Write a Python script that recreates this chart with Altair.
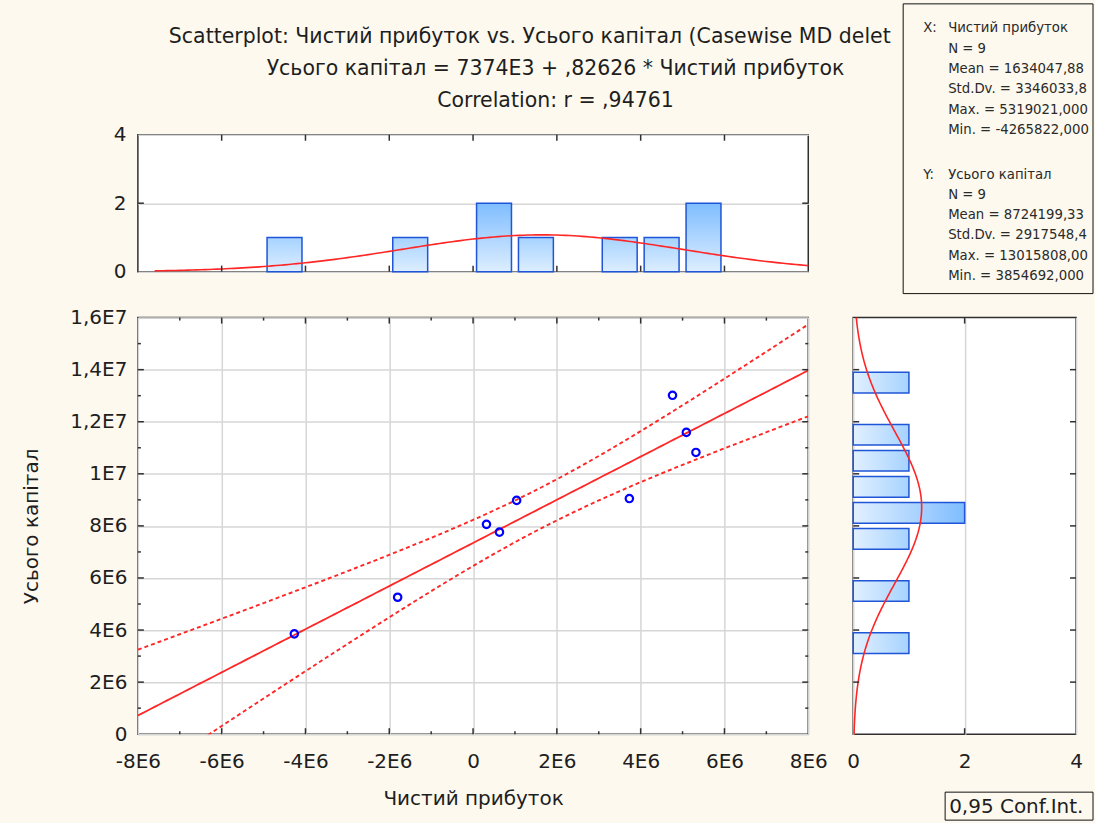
import altair as alt
import numpy as np
import pandas as pd

# ---------------- data ----------------
x_vals = [-4265822, -1800000, 320000, 630000, 1040000, 3730000, 4760000, 5090000, 5319021]
y_vals = [3854692, 5260000, 8060000, 7760000, 8980000, 9050000, 13015808, 11590000, 10820000]

x_label = "Чистий прибуток"
y_label = "Усього капітал"
title_line1 = ["Scatterplot: Чистий прибуток vs. Усього капітал (Casewise MD deletion)"]
title_lines23 = [
    "Усього капітал = 7374E3 + ,82626 * Чистий прибуток",
    "Correlation: r = ,94761",
]
stats_x_head = ["X:"]
stats_x_lines = ["Чистий прибуток", "N = 9", "Mean = 1634047,888889", "Std.Dv. = 3346033,8",
                 "Max. = 5319021,000000", "Min. = -4265822,000000"]
stats_y_head = ["Y:"]
stats_y_lines = ["Усього капітал", "N = 9", "Mean = 8724199,333333", "Std.Dv. = 2917548,4",
                 "Max. = 13015808,00000", "Min. = 3854692,000000"]
ci_label = "0,95 Conf.Int."

x_domain = [-8000000, 8000000]
y_domain = [0, 16000000]
count_domain = [0, 4]
x_major = list(range(-8000000, 8000001, 2000000))
x_minor = list(range(-7000000, 8000000, 2000000))
y_major = list(range(0, 16000001, 2000000))
y_minor = list(range(1000000, 16000000, 2000000))
count_ticks = [0, 2, 4]
count_inner = [2]
bin_width = 1000000
t_975_df7 = 2.364624

# ---------------- derived statistics ----------------
X = np.array(x_vals, float)
Y = np.array(y_vals, float)
n = len(X)
slope, intercept = np.polyfit(X, Y, 1)
resid = Y - (intercept + slope * X)
s_e = np.sqrt((resid ** 2).sum() / (n - 2))
sxx = ((X - X.mean()) ** 2).sum()
xs = np.linspace(x_domain[0], x_domain[1], 161)
fit = intercept + slope * xs
half = t_975_df7 * s_e * np.sqrt(1 / n + (xs - X.mean()) ** 2 / sxx)
fit_df = pd.DataFrame({"x": xs, "fit": fit, "lo": fit - half, "hi": fit + half})


def npdf(v, m, s):
    return np.exp(-0.5 * ((v - m) / s) ** 2) / (s * np.sqrt(2 * np.pi))


gx = np.linspace(-7600000, x_domain[1], 157)
nx_df = pd.DataFrame({"x": gx, "c": n * bin_width * npdf(gx, X.mean(), X.std(ddof=1))})
gy = np.linspace(y_domain[0], y_domain[1], 161)
ny_df = pd.DataFrame({"y": gy, "c": n * bin_width * npdf(gy, Y.mean(), Y.std(ddof=1))})

ex = np.arange(x_domain[0], x_domain[1] + bin_width, bin_width)
cx, _ = np.histogram(X, ex)
hx = pd.DataFrame({"start": ex[:-1], "end": ex[1:], "count": cx})
hx = hx[hx["count"] > 0]
ey = np.arange(y_domain[0], y_domain[1] + bin_width, bin_width)
cy, _ = np.histogram(Y, ey)
hy = pd.DataFrame({"start": ey[:-1], "end": ey[1:], "count": cy})
hy = hy[hy["count"] > 0]

pts = pd.DataFrame({"x": x_vals, "y": y_vals})
one = pd.DataFrame({"u": [0.0], "v": [0.0]})

# ---------------- styles ----------------
FONT = "DejaVu Sans"
TXT = "#1e1e1e"
GRID = "#d6d6d6"
FRAME = "#303030"
BG = "#fdf9ee"
RED = "#ff2626"
BLUE = "#0000ff"
BAR_STROKE = "#1f55d6"
W, H = 671, 417
TH = 137
RW = 223
MAJ, MIN = 6, 3

sx = alt.Scale(domain=x_domain, nice=False, zero=False)
sy = alt.Scale(domain=y_domain, nice=False, zero=False)
sc = alt.Scale(domain=count_domain, nice=False, zero=False)
su = alt.Scale(domain=[0, 1], nice=False, zero=False)

XL = "datum.value == 0 ? '0' : (datum.value / 1000000) + 'E6'"
YL = ("datum.value == 0 ? '0' : (datum.value < 10000000 ? (datum.value / 1000000) + 'E6' : "
      "replace('' + (datum.value / 10000000), '.', ',') + 'E7')")


def grad(light, dark, horizontal):
    if horizontal:
        return alt.Gradient(gradient="linear", x1=0, y1=0, x2=1, y2=0,
                            stops=[alt.GradientStop(color=light, offset=0),
                                   alt.GradientStop(color=dark, offset=1)])
    return alt.Gradient(gradient="linear", x1=0, y1=1, x2=0, y2=0,
                        stops=[alt.GradientStop(color=light, offset=0),
                               alt.GradientStop(color=dark, offset=1)])


def edge_ticks(values, channel, scale, size, length):
    """Inside tick marks on both edges of a panel, placed by the panel's own scale."""
    df = pd.DataFrame({"t": values})
    out = []
    for pos in (size / 2, length - size / 2):
        if channel == "x":
            out.append(alt.Chart(df).mark_tick(orient="vertical", size=size, thickness=1.5,
                                               color=FRAME, opacity=1).encode(
                x=alt.X("t:Q", scale=scale, axis=None), y=alt.value(pos)))
        else:
            out.append(alt.Chart(df).mark_tick(orient="horizontal", size=size, thickness=1.5,
                                               color=FRAME, opacity=1).encode(
                y=alt.Y("t:Q", scale=scale, axis=None), x=alt.value(pos)))
    return out


x_major_in = [v for v in x_major if x_domain[0] < v < x_domain[1]]
y_major_in = [v for v in y_major if y_domain[0] < v < y_domain[1]]

# ---------------- scatter panel ----------------
main_x_axis = alt.Axis(orient="bottom", values=x_major, labelExpr=XL, ticks=False, tickSize=0,
                       domain=False, grid=True, gridColor=GRID, gridWidth=1.5, labelPadding=17,
                       labelFlush=False, labelOverlap=False, title=x_label, titleY=64,
                       titleBaseline="middle")
main_y_axis = alt.Axis(orient="left", values=y_major, labelExpr=YL, ticks=False, tickSize=0,
                       domain=False, grid=True, gridColor=GRID, gridWidth=1.5, labelPadding=11,
                       labelFlush=False, labelOverlap=False, title=y_label, titleX=-106,
                       titleY=H / 2, titleAngle=270, titleBaseline="middle", titleAlign="center")

fit_line = alt.Chart(fit_df).mark_line(color=RED, strokeWidth=1.8, clip=True).encode(
    x=alt.X("x:Q", scale=sx, axis=None), y=alt.Y("fit:Q", scale=sy, axis=None))
lo_line = alt.Chart(fit_df).mark_line(color=RED, strokeWidth=1.9, strokeDash=[4, 3], clip=True).encode(
    x=alt.X("x:Q", scale=sx, axis=None), y=alt.Y("lo:Q", scale=sy, axis=None))
hi_line = alt.Chart(fit_df).mark_line(color=RED, strokeWidth=1.9, strokeDash=[4, 3], clip=True).encode(
    x=alt.X("x:Q", scale=sx, axis=None), y=alt.Y("hi:Q", scale=sy, axis=None))
points = alt.Chart(pts).mark_point(shape="circle", filled=False, size=55, strokeWidth=2.2,
                                   color=BLUE, opacity=1).encode(
    x=alt.X("x:Q", scale=sx, axis=main_x_axis), y=alt.Y("y:Q", scale=sy, axis=main_y_axis))

sc_ticks = (edge_ticks(x_major_in, "x", sx, MAJ, H) + edge_ticks(x_minor, "x", sx, MIN, H)
            + edge_ticks(y_major_in, "y", sy, MAJ, W) + edge_ticks(y_minor, "y", sy, MIN, W))

scatter = alt.layer(fit_line, lo_line, hi_line, *sc_ticks, points).resolve_axis(
    x="independent", y="independent").properties(width=W, height=H)

# ---------------- top histogram ----------------
top_y_axis = alt.Axis(orient="left", values=count_ticks, ticks=False, tickSize=0, domain=False,
                      grid=True, gridColor=GRID, gridWidth=1.5, labelPadding=12, labelFlush=False,
                      labelOverlap=False, title=None)
tb1 = alt.Chart(hx).transform_filter("datum.count == 1").mark_rect(
    fill=grad("#ddeeff", "#a6d3ff", False), stroke=BAR_STROKE, strokeWidth=1.5,
    xOffset=3.5, x2Offset=-3.5).encode(
    x=alt.X("start:Q", scale=sx, axis=None), x2=alt.X2("end"),
    y=alt.Y("count:Q", scale=sc, axis=top_y_axis), y2=alt.Y2(datum=0))
tb2 = alt.Chart(hx).transform_filter("datum.count == 2").mark_rect(
    fill=grad("#ddeeff", "#7fbdff", False), stroke=BAR_STROKE, strokeWidth=1.5,
    xOffset=3.5, x2Offset=-3.5).encode(
    x=alt.X("start:Q", scale=sx, axis=None), x2=alt.X2("end"),
    y=alt.Y("count:Q", scale=sc, axis=None), y2=alt.Y2(datum=0))
tcurve = alt.Chart(nx_df).mark_line(color=RED, strokeWidth=1.6).encode(
    x=alt.X("x:Q", scale=sx, axis=None), y=alt.Y("c:Q", scale=sc, axis=None))
title_text1 = alt.Chart(one).mark_text(align="left", baseline="alphabetic", font=FONT,
                                       fontSize=20.5, color=TXT, limit=733, ellipsis=" ").encode(
    x=alt.value(31), y=alt.value(-91.5), text=alt.value(title_line1))
title_text23 = alt.Chart(one).mark_text(align="center", baseline="alphabetic", font=FONT,
                                        fontSize=20.5, color=TXT, lineHeight=32).encode(
    x=alt.value(418), y=alt.value(-59.5), text=alt.value(title_lines23))
top_ticks = edge_ticks(x_major_in, "x", sx, MAJ, TH) + edge_ticks(count_inner, "y", sc, MAJ, W)
top = alt.layer(tb1, tb2, tcurve, *top_ticks, title_text1, title_text23).resolve_axis(
    x="independent", y="independent").properties(width=W, height=TH)

# ---------------- stats box ----------------
anchor = alt.Chart(one).mark_point(opacity=0, size=1).encode(
    x=alt.X("u:Q", scale=su, axis=None), y=alt.Y("v:Q", scale=su, axis=None))
box = alt.Chart(one).mark_rect(fill=BG, stroke="#111111", strokeWidth=1).encode(
    x=alt.value(50), x2=alt.value(240), y=alt.value(-131), y2=alt.value(159))


def stat_text(lines, xpos, ypos):
    return alt.Chart(one).mark_text(align="left", baseline="alphabetic", font=FONT, fontSize=13.3,
                                    color="#2a2a2a", lineHeight=20.3, limit=146, ellipsis=" ").encode(
        x=alt.value(xpos), y=alt.value(ypos), text=alt.value(lines))


stats = alt.layer(anchor, box,
                  stat_text(stats_x_head, 70, -102.4), stat_text(stats_x_lines, 95, -102.4),
                  stat_text(stats_y_head, 70, 43.9), stat_text(stats_y_lines, 95, 43.9)).properties(
    width=RW, height=TH, view=alt.ViewBackground(fill="transparent", stroke="transparent"))

# ---------------- right histogram ----------------
right_x_axis = alt.Axis(orient="bottom", values=count_ticks, ticks=False, tickSize=0, domain=False,
                        grid=True, gridColor=GRID, gridWidth=1.5, labelPadding=17, labelFlush=False,
                        labelOverlap=False, title=None)
rb1 = alt.Chart(hy).transform_filter("datum.count == 1").mark_rect(
    fill=grad("#e2f0ff", "#a6d3ff", True), stroke=BAR_STROKE, strokeWidth=1.5,
    yOffset=-2.7, y2Offset=2.7).encode(
    y=alt.Y("start:Q", scale=sy, axis=None), y2=alt.Y2("end"),
    x=alt.X("count:Q", scale=sc, axis=right_x_axis), x2=alt.X2(datum=0))
rb2 = alt.Chart(hy).transform_filter("datum.count == 2").mark_rect(
    fill=grad("#e2f0ff", "#7fbdff", True), stroke=BAR_STROKE, strokeWidth=1.5,
    yOffset=-2.7, y2Offset=2.7).encode(
    y=alt.Y("start:Q", scale=sy, axis=None), y2=alt.Y2("end"),
    x=alt.X("count:Q", scale=sc, axis=None), x2=alt.X2(datum=0))
rcurve = alt.Chart(ny_df).mark_line(color=RED, strokeWidth=1.6).encode(
    x=alt.X("c:Q", scale=sc, axis=None), y=alt.Y("y:Q", scale=sy, axis=None),
    order=alt.Order("y:Q"))
ci_box = alt.Chart(one).mark_rect(fill=BG, stroke="#111111", strokeWidth=1).encode(
    x=alt.value(92), x2=alt.value(240), y=alt.value(475), y2=alt.value(503))
ci_text = alt.Chart(one).mark_text(align="left", baseline="middle", font=FONT, fontSize=20,
                                   color=TXT).encode(
    x=alt.value(96), y=alt.value(490), text=alt.value(ci_label))
right_ticks = edge_ticks(y_major_in, "y", sy, MAJ, RW) + edge_ticks(count_inner, "x", sc, MAJ, H)
right = alt.layer(rb1, rb2, rcurve, *right_ticks, ci_box, ci_text).resolve_axis(
    x="independent", y="independent").properties(width=RW, height=H)

# ---------------- assemble ----------------
chart = alt.concat(top, stats, scatter, right, columns=2, spacing={"row": 46, "column": 45},
                   bounds="flush", align="each").properties(
    padding={"left": 21, "top": 1.5, "right": 0, "bottom": 0}
).configure(background=BG).configure_view(
    fill="white", stroke=FRAME, strokeWidth=1.5
).configure_axis(
    labelFont=FONT, labelFontSize=20, labelColor=TXT, titleFont=FONT, titleFontSize=20,
    titleFontWeight="normal", titleColor=TXT
)

chart.save("out.html", embed_options={"renderer": "svg", "actions": False})
